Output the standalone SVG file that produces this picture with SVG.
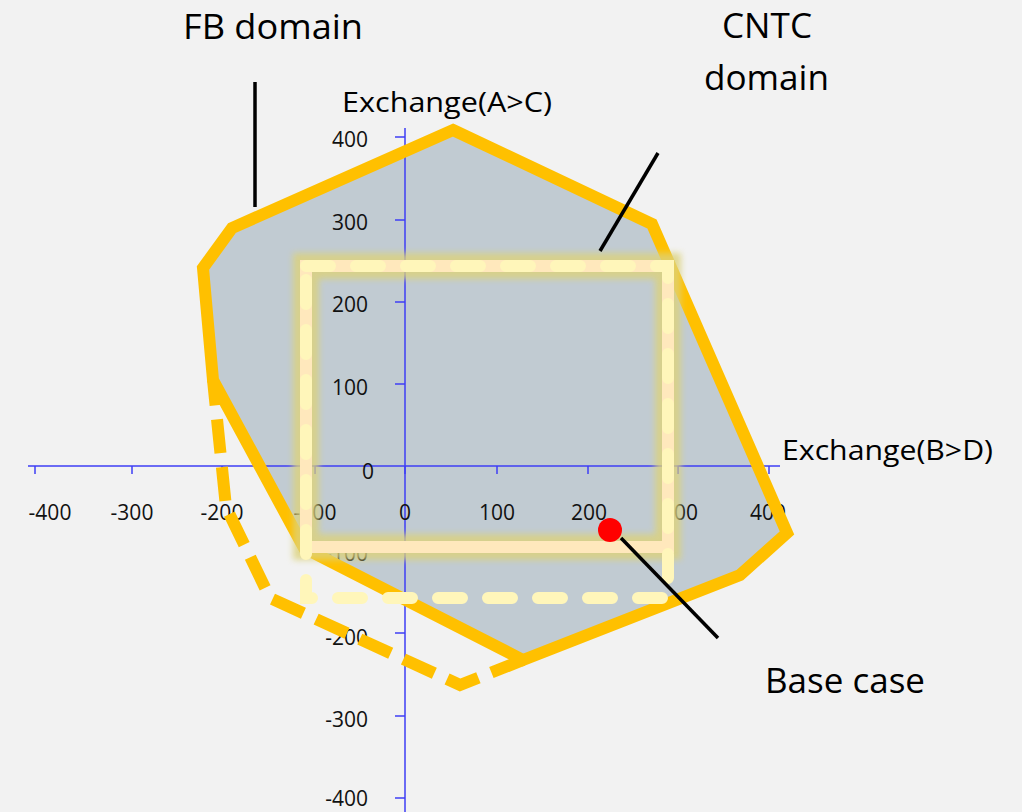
<svg xmlns="http://www.w3.org/2000/svg" width="1022" height="812" viewBox="0 0 1022 812">
<defs>
<style>
.ax{stroke:#3F3FF5;stroke-width:1.5;fill:none}
.tl{font-family:"Open Sans","Noto Sans",sans-serif;font-size:21px;fill:#111}
.lbl{font-family:"Open Sans","Noto Sans",sans-serif;fill:#000}
.ptr{stroke:#000;stroke-width:3.5;fill:none}
.fb{stroke:#FFC000;stroke-width:12;fill:none;stroke-linejoin:miter}
</style>
<filter id="glow" x="-10%" y="-10%" width="120%" height="120%"><feGaussianBlur stdDeviation="3"/></filter>
</defs>
<rect x="0" y="0" width="1022" height="812" fill="#F2F2F2"/>
<g id="fb-fill"><polygon points="453,130 652,224 787,533 740,575 523,660 304,548 213,380 203,268 232,228" fill="#C1CBD2"/></g>
<g id="axes">
<path class="ax" d="M28,466H780M405,128V812"/>
<path class="ax" d="M35,466v8M132,466v8M222,466v8M315,466v8M405,466v8M497,466v8M588,466v8M678,466v8M769,466v8"/>
<path class="ax" d="M395,137h10M395,220h10M395,302h10M395,384h10M395,549h10M395,633h10M395,716h10M395,798h10"/>
<g class="tl" text-anchor="middle">
<text x="50" y="520">-400</text><text x="132" y="520">-300</text><text x="222" y="520">-200</text><text x="315" y="520">-100</text><text x="405" y="520">0</text><text x="497" y="520">100</text><text x="589" y="520">200</text><text x="680" y="520">300</text><text x="768" y="520">400</text>
</g>
<g class="tl" text-anchor="end">
<text x="368" y="147">400</text><text x="368" y="230">300</text><text x="368" y="312">200</text><text x="368" y="395">100</text><text x="374" y="479">0</text><text x="368" y="561">-100</text><text x="368" y="645">-200</text><text x="368" y="727">-300</text><text x="368" y="806">-400</text>
</g>
</g>
<g id="fb-domain">
<polygon class="fb" points="453,130 652,224 787,533 740,575 523,660 304,548 213,380 203,268 232,228"/>
<polyline class="fb" points="523,660 460,685 270,598 226,507 213,380" stroke-dasharray="34 14"/>
</g>
<g id="cntc-domain">
<rect x="306" y="266" width="362" height="281" fill="none" stroke="#DCD27A" stroke-width="26" opacity="0.8" filter="url(#glow)"/>
<rect x="306" y="266" width="362" height="281" fill="none" stroke="#FFE8BC" stroke-width="12"/>
<path d="M306,266H668V598H306Z" fill="none" stroke="#FFF6BA" stroke-width="12" stroke-linecap="round" stroke-dasharray="24 26"/>
</g>
<g id="base-case"><circle cx="610" cy="530" r="12" fill="#FF0000"/></g>
<g id="connectors">
<line class="ptr" x1="255" y1="82" x2="255" y2="207"/>
<line class="ptr" x1="658" y1="153" x2="600" y2="251"/>
<line class="ptr" x1="621" y1="538" x2="718" y2="638"/>
</g>
<g id="labels" class="lbl">
<text x="183" y="39" font-size="34" textLength="180" lengthAdjust="spacingAndGlyphs">FB domain</text>
<text x="722" y="38" font-size="34" textLength="90" lengthAdjust="spacingAndGlyphs">CNTC</text>
<text x="704" y="90" font-size="34" textLength="125" lengthAdjust="spacingAndGlyphs">domain</text>
<text x="342" y="112" font-size="28" textLength="210" lengthAdjust="spacingAndGlyphs">Exchange(A&gt;C)</text>
<text x="782" y="460" font-size="28" textLength="211" lengthAdjust="spacingAndGlyphs">Exchange(B&gt;D)</text>
<text x="765" y="693" font-size="34" textLength="160" lengthAdjust="spacingAndGlyphs">Base case</text>
</g>
</svg>
